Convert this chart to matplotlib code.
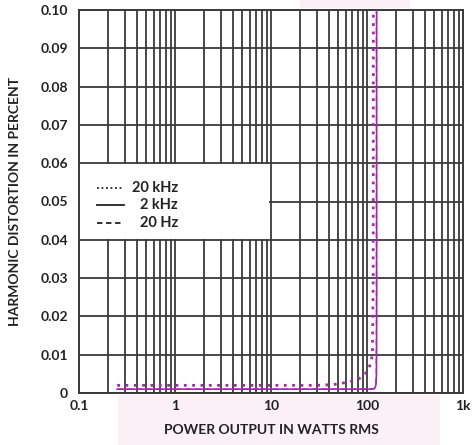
import matplotlib
matplotlib.use("Agg")
import matplotlib.pyplot as plt
from matplotlib.patches import Rectangle
import numpy as np

# data
power_20khz = [0.25, 1, 10, 30, 45, 66, 85, 100, 110, 114, 116, 116.5]
thd_20khz = [0.002, 0.002, 0.002, 0.002, 0.0022, 0.0029, 0.0039, 0.0055, 0.0078, 0.0104, 0.03, 0.1]
power_2khz = [0.25, 1, 10, 100, 118, 122, 124.5, 125.5, 126, 126]
thd_2khz = [0.001, 0.001, 0.001, 0.001, 0.0011, 0.0015, 0.0025, 0.005, 0.02, 0.1]
power_20hz = [0.25, 1, 10, 100, 118, 122, 124, 125, 125.5, 125.5]
thd_20hz = [0.001, 0.001, 0.001, 0.001, 0.0011, 0.0015, 0.0025, 0.005, 0.02, 0.1]
legend_labels = ["20 kHz", "2 kHz", "20 Hz"]
xtick_vals = [0.1, 1, 10, 100, 1000]
xtick_labels = ["0.1", "1", "10", "100", "1k"]
ytick_vals = [0, 0.01, 0.02, 0.03, 0.04, 0.05, 0.06, 0.07, 0.08, 0.09, 0.10]
ytick_labels = ["0", "0.01", "0.02", "0.03", "0.04", "0.05", "0.06", "0.07", "0.08", "0.09", "0.10"]

FONT = ["Lato", "DejaVu Sans"]
plt.rcParams['font.family'] = FONT

fig = plt.figure(figsize=(4.73, 4.45), dpi=100)
fig.patch.set_facecolor("white")
# faint pink scan background areas
fig.patches.append(Rectangle((118/473, 0), (440-118)/473, 50/445, transform=fig.transFigure,
                             facecolor="#faf0f6", edgecolor="none", zorder=-5))
fig.patches.append(Rectangle((300/473, 1-8/445), 110/473, 8/445, transform=fig.transFigure,
                             facecolor="#faf0f6", edgecolor="none", zorder=-5))

ax = fig.add_axes([79/473, 1-393/445, (463-79)/473, (393-10)/445])
ax.set_zorder(1)
ax.set_xscale("log")
ax.set_xlim(0.1, 1000)
ax.set_ylim(0, 0.10)

gridc = "#3a3a3a"
ax.grid(True, which="major", axis="both", color=gridc, lw=1.3)
ax.grid(True, which="minor", axis="x", color=gridc, lw=1.3)
for s in ax.spines.values():
    s.set_color(gridc)
    s.set_linewidth(1.4)
ax.set_axisbelow(True)

# legend area (white box hiding the grid)
ax.add_patch(Rectangle((0.1, 0.0401), 9.6 - 0.1, 0.0198, facecolor="white", edgecolor="none", zorder=1.5))

purple = "#a02aa8"
ax.plot(power_20khz, thd_20khz, color=purple, lw=2.0, ls=(0, (1, 2.0)), zorder=3)
ax.plot(power_2khz, thd_2khz, color=purple, lw=1.2, ls="-", zorder=3)
ax.plot(power_20hz, thd_20hz, color=purple, lw=1.0, ls=(0, (4, 3)), zorder=3)

# legend drawn manually
rows = [0.0535, 0.0490, 0.0445]
styles = [(0, (1, 1.5)), "-", (0, (3, 2))]
for yv, st, lab in zip(rows, styles, legend_labels):
    ax.plot([0.154, 0.294], [yv, yv], color="#222222", lw=1.3, ls=st, zorder=4)
    ax.text(1.08, yv, lab, ha="right", va="center", fontsize=10.5, fontweight="bold",
            color="#222222", zorder=4)

ax.set_xticks(xtick_vals)
ax.set_xticklabels(xtick_labels)
ax.set_yticks(ytick_vals)
ax.set_yticklabels(ytick_labels)
ax.tick_params(axis="both", which="both", length=0, labelsize=10, colors="#222222")
ax.tick_params(axis="x", pad=5)
ax.tick_params(axis="y", pad=8)
for lbl in ax.get_xticklabels() + ax.get_yticklabels():
    lbl.set_fontweight("bold")

ax.set_xlabel("POWER OUTPUT IN WATTS RMS", fontsize=10, fontweight="bold", color="#222222", labelpad=9)
ax.set_ylabel("HARMONIC DISTORTION IN PERCENT", fontsize=10, fontweight="bold", color="#222222", labelpad=14)

fig.savefig("out.png", dpi=100, facecolor=fig.get_facecolor())
